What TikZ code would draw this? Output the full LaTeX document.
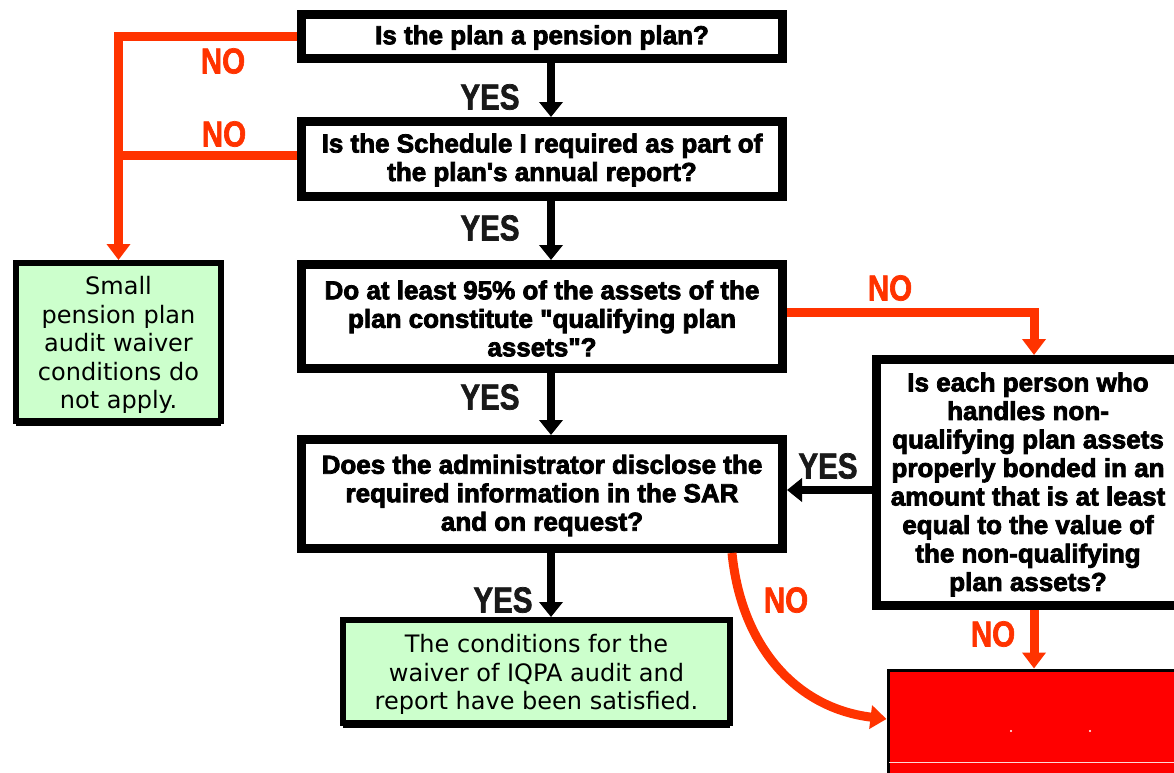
\documentclass[tikz,border=0pt]{standalone}
\usepackage{fontspec}
\usepackage{graphicx}
\usetikzlibrary{arrows.meta,shadows,calc}
\newfontfamily\qfont[FakeBold=3]{Liberation Sans}
\newfontfamily\lfont[FakeBold=2]{Liberation Sans}
\newfontfamily\gfont{DejaVu Sans}
\definecolor{oline}{RGB}{255,51,0}
\definecolor{gfill}{RGB}{204,255,204}
\definecolor{rfill}{RGB}{255,0,0}
\newcommand{\lbl}[1]{\scalebox{0.82}[1]{#1}}
\tikzset{
  qbox/.style={draw=black, line width=9pt, fill=white, inner sep=0pt},
  qtext/.style={align=center, inner sep=0pt,
    font=\qfont\bfseries\fontsize{26}{28.5}\selectfont},
  gbox/.style={draw=black, line width=6pt, fill=gfill, inner sep=0pt,
    drop shadow={shadow xshift=0pt, shadow yshift=-5pt, fill=black, opacity=1}},
  gtext/.style={align=center, inner sep=0pt,
    font=\gfont\fontsize{24}{28.5}\selectfont},
  yeslbl/.style={text=black!90, font=\lfont\bfseries\fontsize{36}{36}\selectfont, inner sep=0pt},
  nolbl/.style={text=oline, font=\lfont\bfseries\fontsize{36}{36}\selectfont, inner sep=0pt},
  barrow/.style={draw=black, line width=8pt, -{Triangle[width=23pt,length=15pt]}},
  oarrow/.style={draw=oline, line width=9pt, -{Triangle[width=23pt,length=16pt]}},
  olink/.style={draw=oline, line width=9pt}
}
\begin{document}
\begin{tikzpicture}[x=1pt,y=-1pt]
\useasboundingbox (0,0) rectangle (1174,772);
\clip (0,0) rectangle (1174,772);
\fill[white] (0,0) rectangle (1174,772);

% boxes
\node[qbox, minimum width=481pt, minimum height=44pt] (b1) at (542,36.5) {};
\node[qbox, minimum width=481pt, minimum height=75pt] (b2) at (542,159) {};
\node[qbox, minimum width=481pt, minimum height=104pt] (b3) at (542,316.5) {};
\node[qbox, minimum width=481pt, minimum height=109pt] (b4) at (542,494) {};
\node[qbox, minimum width=303pt, minimum height=246pt] (b5) at (1028,482.5) {};
\node[gbox, minimum width=205pt, minimum height=158pt] (gl) at (118.5,342) {};
\node[gbox, minimum width=387pt, minimum height=103pt] (gb) at (536.5,671.5) {};

% box texts
\node[qtext] (t1) at ($(b1.center)+(0,1)$) {Is the plan a pension plan?};
\node[qtext] (t2) at ($(b2.center)+(0,1)$)
  {Is the Schedule I required as part of\\the plan's annual report?};
\node[qtext] (t3) at ($(b3.center)+(0,2)$)
  {Do at least 95\% of the assets of the\\plan constitute "qualifying plan\\assets"?};
\node[qtext] (t4) at ($(b4.center)+(0,1.5)$)
  {Does the administrator disclose the\\required information in the SAR\\and on request?};
\node[qtext] (t5) at ($(b5.center)+(0,2)$)
  {Is each person who\\handles non-\\qualifying plan assets\\properly bonded in an\\amount that is at least\\equal to the value of\\the non-qualifying\\plan assets?};
\node[gtext] (tl) at ($(gl.center)+(0,3)$)
  {Small\\pension plan\\audit waiver\\conditions do\\not apply.};
\node[gtext] (tb) at ($(gb.center)+(0,3)$)
  {The conditions for the\\waiver of IQPA audit and\\report have been satisfied.};

\node[fill=rfill, draw=black, line width=3pt, minimum width=300pt, minimum height=130pt,
  anchor=north west, inner sep=0pt] (red) at (886.5,668.5) {};
\draw[white!85!rfill, line width=1pt] (889,762) -- (1174,762);
\fill[white] (1011,731) circle (1.2pt);
\fill[white] (1090,731) circle (1.2pt);

% helper coordinates
\coordinate (ax) at (551,0);
\coordinate (rx) at (1034,0);
\coordinate (yy) at (0,490);
\coordinate (o2) at (0,155);
\coordinate (o3) at (0,312);
\coordinate (cx) at (732,0);
\coordinate (cy) at (0,719);

% black YES arrows
\draw[barrow] (b1.south -| ax) -- (b2.north -| ax);
\draw[barrow] (b2.south -| ax) -- (b3.north -| ax);
\draw[barrow] (b3.south -| ax) -- (b4.north -| ax);
\draw[barrow] (b4.south -| ax) -- (gb.north -| ax);
\draw[barrow] (b5.west |- yy) -- (b4.east |- yy);

% orange NO connectors
\draw[oarrow] (b1.west) -| (gl.north);
\draw[olink] (b2.west |- o2) -- (gl.north |- o2);
\draw[oarrow] (b3.east |- o3) -| (b5.north -| rx);
\draw[oarrow] (b5.south -| rx) -- (red.north -| rx);
\draw[oarrow] (b4.south -| cx) .. controls (741,645) and (795,708) .. (red.west |- cy);

% labels
\node[yeslbl] (y1) at (490,97) {\lbl{YES}};
\node[yeslbl] (y2) at (490,228) {\lbl{YES}};
\node[yeslbl] (y3) at (490,397) {\lbl{YES}};
\node[yeslbl] (y4) at (503,600) {\lbl{YES}};
\node[yeslbl] (y5) at (828,466) {\lbl{YES}};
\node[nolbl] (n1) at (223,61) {\lbl{NO}};
\node[nolbl] (n2) at (224,134) {\lbl{NO}};
\node[nolbl] (n3) at (890,288) {\lbl{NO}};
\node[nolbl] (n4) at (993,634) {\lbl{NO}};
\node[nolbl] (n5) at (786,600) {\lbl{NO}};
\end{tikzpicture}
\end{document}
